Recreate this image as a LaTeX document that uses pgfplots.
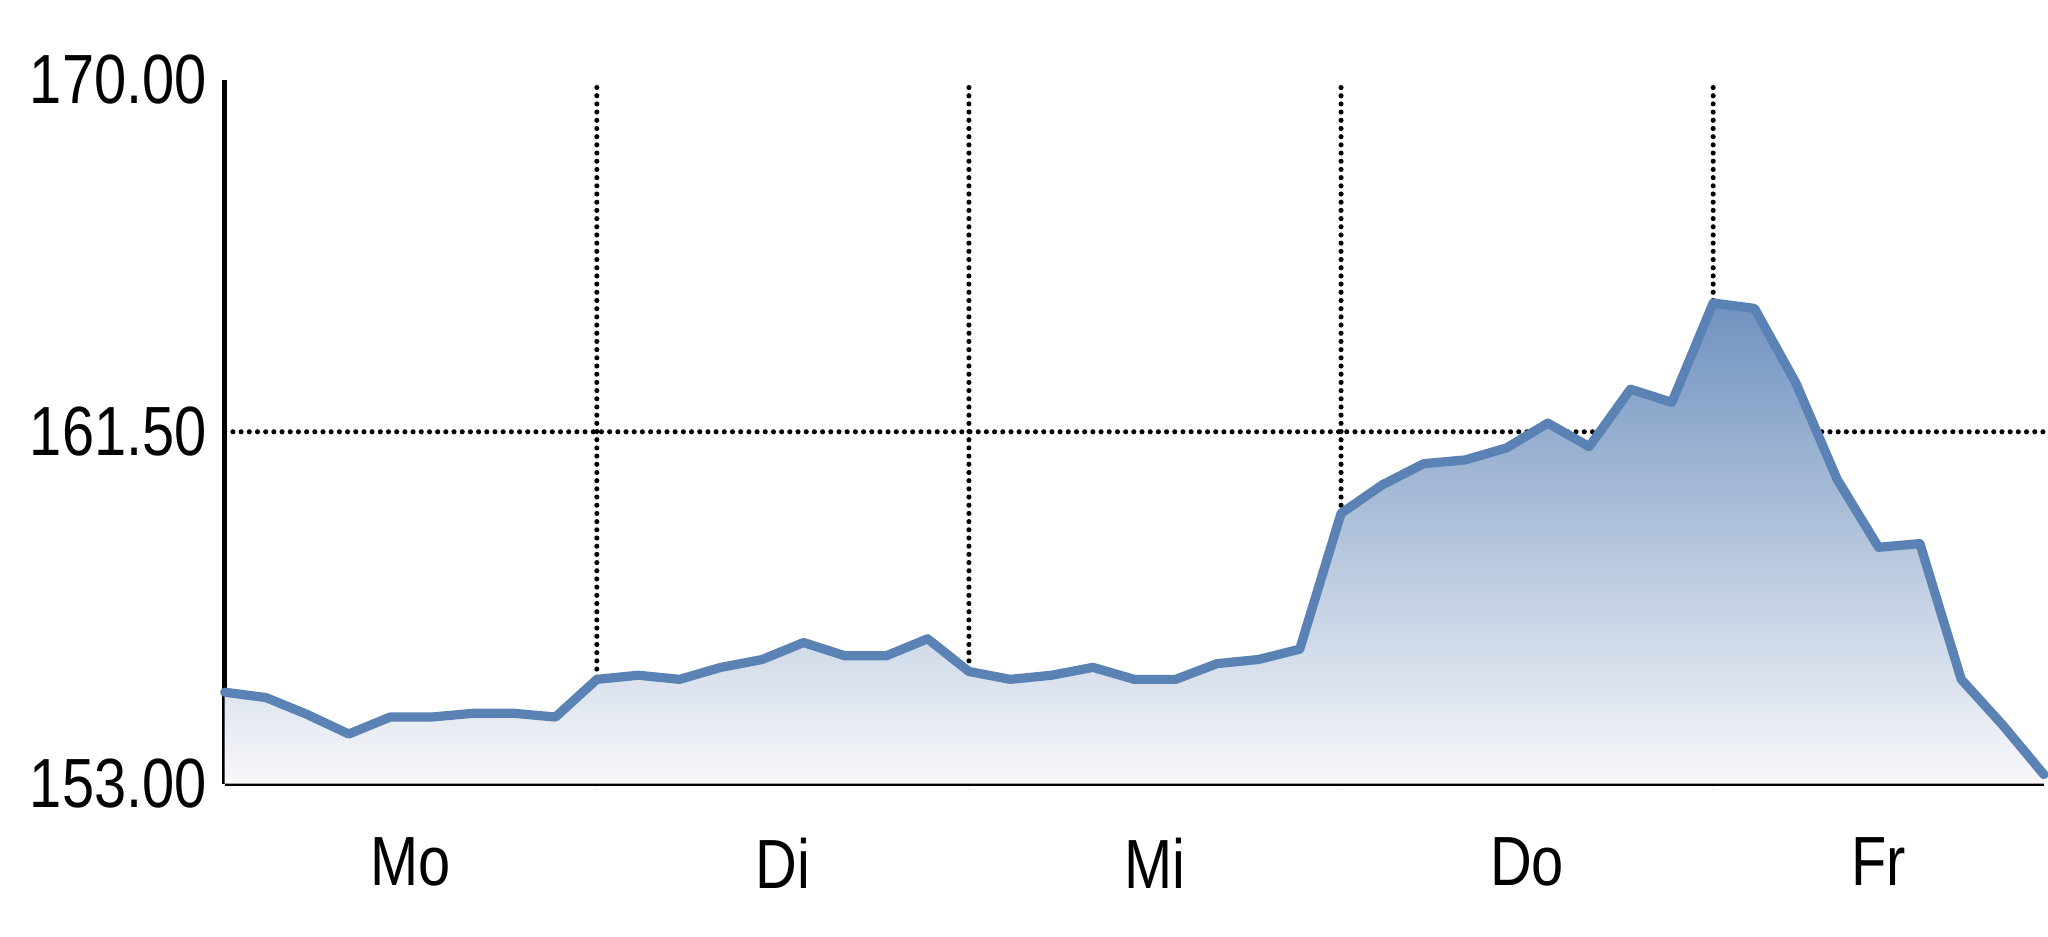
\documentclass[border=0pt]{standalone}
\usepackage{pgfplots}
\pgfplotsset{compat=1.18}
\usepackage{fontspec}
\setmainfont{Liberation Sans}[FakeStretch=0.83]
\definecolor{lineblue}{HTML}{5A82B4}
\definecolor{filltop}{HTML}{7092BF}
\definecolor{fillbot}{HTML}{F8F8FA}
\begin{document}
\begin{tikzpicture}
\begin{axis}[
  scale only axis,
  width=355.4pt, height=137.5pt,
  xmin=0, xmax=44, ymin=153, ymax=170,
  axis lines=left,
  axis line style={-, line width=0.9pt, black},
  xtick={9,18,27,36}, xticklabels={},
  extra x ticks={4.5,13.5,22.5,31.5,40},
  extra x tick labels={Mo,Di,Mi,Do,Fr},
  extra x tick style={grid=none},
  ytick={153,161.5,170},
  extra y ticks={161.5}, extra y tick labels={},
  extra y tick style={grid=major},
  xmajorgrids, ymajorgrids=false,
  major tick length=0pt,
  major grid style={black, line width=1pt, line cap=round, dash pattern=on 0pt off 1.6pt},
  /pgf/number format/fixed,
  /pgf/number format/fixed zerofill,
  /pgf/number format/precision=2,
  /pgf/number format/assume math mode=true,
  yticklabel style={font=\fontsize{13.6}{14}\selectfont},
  xticklabel style={font=\fontsize{13.6}{14}\selectfont, yshift=-7pt},
  clip=false,
]
\addplot[draw=none, top color=filltop, bottom color=fillbot, shading=axis] table {
x y
0 153
0 155.21
1 155.08
2 154.67
3 154.20
4 154.61
5 154.61
6 154.70
7 154.70
8 154.61
9 155.52
10 155.62
11 155.52
12 155.81
13 156.00
14 156.41
15 156.09
16 156.09
17 156.50
18 155.71
19 155.52
20 155.62
21 155.81
22 155.52
23 155.52
24 155.90
25 156.00
26 156.25
27 159.53
28 160.22
29 160.73
30 160.82
31 161.11
32 161.71
33 161.14
34 162.53
35 162.21
36 164.61
37 164.48
38 162.68
39 160.35
40 158.71
41 158.80
42 155.52
43 154.42
44 153.22
44 153
} -- cycle;
\addplot[lineblue, line width=1.8pt, line join=round, line cap=round] table {
x y
0 155.21
1 155.08
2 154.67
3 154.20
4 154.61
5 154.61
6 154.70
7 154.70
8 154.61
9 155.52
10 155.62
11 155.52
12 155.81
13 156.00
14 156.41
15 156.09
16 156.09
17 156.50
18 155.71
19 155.52
20 155.62
21 155.81
22 155.52
23 155.52
24 155.90
25 156.00
26 156.25
27 159.53
28 160.22
29 160.73
30 160.82
31 161.11
32 161.71
33 161.14
34 162.53
35 162.21
36 164.61
37 164.48
38 162.68
39 160.35
40 158.71
41 158.80
42 155.52
43 154.42
44 153.22
};
\end{axis}
\pgfresetboundingbox
\useasboundingbox ([shift={(-43.9pt,-29.9pt)}]current axis.south west) rectangle ([shift={(0.8pt,15.6pt)}]current axis.north east);
\end{tikzpicture}
\end{document}
